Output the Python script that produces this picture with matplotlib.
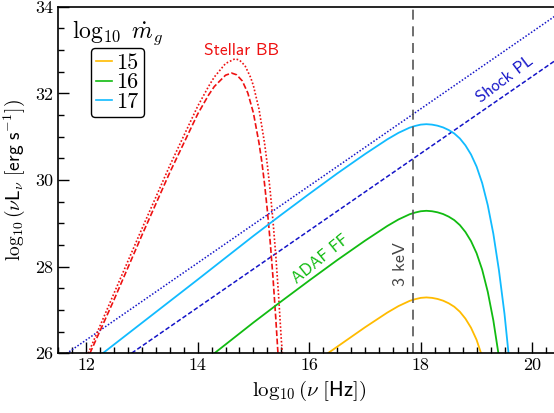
import matplotlib
matplotlib.use("Agg")
import matplotlib.pyplot as plt
from matplotlib.lines import Line2D
from matplotlib.ticker import MultipleLocator, FixedLocator

plt.rcParams['mathtext.fontset'] = 'cm'
plt.rcParams['font.family'] = 'serif'
plt.rcParams['font.serif'] = ['cmr10', 'DejaVu Serif']
plt.rcParams['axes.unicode_minus'] = False

# ---------------- data ----------------
# ADAF free-free spectra for log10 mdot_g = 17, 16, 15
ff17_x = [12.3, 13.0, 14.0, 15.0, 15.5, 16.0, 16.5, 16.8, 17.0, 17.2, 17.4, 17.6, 17.8,
          17.9, 18.0, 18.1, 18.2, 18.3, 18.4, 18.5, 18.6, 18.7, 18.8, 18.9, 19.0,
          19.1, 19.2, 19.3, 19.4, 19.5, 19.58]
ff17_y = [26.0, 26.70, 27.70, 28.71, 29.20, 29.68, 30.15, 30.42, 30.60, 30.77, 30.94, 31.09, 31.21,
          31.25, 31.28, 31.29, 31.28, 31.255, 31.215, 31.155, 31.075, 30.96, 30.80, 30.59, 30.31,
          29.93, 29.42, 28.76, 27.92, 26.91, 25.90]
ff16_x = [14.3, 15.0, 15.5, 16.0, 16.5, 16.8, 17.0, 17.2, 17.4, 17.6, 17.8,
          17.9, 18.0, 18.1, 18.2, 18.3, 18.4, 18.5, 18.6, 18.7, 18.8, 18.9, 19.0,
          19.1, 19.2, 19.3, 19.4]
ff16_y = [26.0, 26.71, 27.20, 27.68, 28.15, 28.42, 28.60, 28.77, 28.94, 29.09, 29.21,
          29.25, 29.28, 29.29, 29.28, 29.255, 29.215, 29.155, 29.075, 28.96, 28.80, 28.59, 28.31,
          27.93, 27.42, 26.76, 25.92]
ff15_x = [16.3, 16.5, 16.8, 17.0, 17.2, 17.4, 17.6, 17.8,
          17.9, 18.0, 18.1, 18.2, 18.3, 18.4, 18.5, 18.6, 18.7, 18.8, 18.9, 19.0, 19.08]
ff15_y = [25.97, 26.15, 26.42, 26.60, 26.77, 26.94, 27.09, 27.21,
          27.25, 27.28, 27.29, 27.28, 27.255, 27.215, 27.155, 27.075, 26.96, 26.80, 26.59, 26.31, 26.0]

# Stellar black body (two variants)
bb_dash_x = [12.07, 12.5, 13.0, 13.5, 14.0, 14.2, 14.3, 14.5, 14.61, 14.7, 14.8,
             14.9, 15.0, 15.1, 15.15, 15.2, 15.25, 15.3, 15.35, 15.4, 15.44]
bb_dash_y = [26.0, 27.23, 28.72, 30.17, 31.52, 31.97, 32.16, 32.42, 32.47, 32.43, 32.29,
             32.01, 31.55, 30.86, 30.43, 29.91, 29.30, 28.59, 27.77, 26.83, 26.0]
bb_dot_x = [12.04, 12.5, 13.0, 13.5, 14.0, 14.2, 14.3, 14.5, 14.67, 14.75, 14.85,
            14.95, 15.0, 15.1, 15.2, 15.25, 15.3, 15.35, 15.4, 15.45, 15.5, 15.52]
bb_dot_y = [26.0, 27.38, 28.87, 30.33, 31.70, 32.17, 32.38, 32.69, 32.80, 32.77, 32.64,
            32.37, 32.18, 31.64, 30.85, 30.35, 29.76, 29.07, 28.28, 27.36, 26.31, 26.0]

# Shock power laws
pl_dot_x = [11.5, 20.5]
pl_dot_y = [25.86, 33.87]
pl_dash_x = [11.5, 20.5]
pl_dash_y = [24.83, 32.84]

x_keV3 = 17.86

legend_labels = ['15', '16', '17']
xticks = [12, 14, 16, 18, 20]
yticks = [26, 28, 30, 32, 34]

# ---------------- styling ----------------
c15, c16, c17 = '#ffbb00', '#11bb11', '#11bbff'
cred = '#ee1111'
cblue = '#1414c8'

fig = plt.figure(figsize=(5.54, 4.13), dpi=100)
ax = fig.add_axes([58.1 / 554, 59.7 / 413, 502.2 / 554, 346.5 / 413])

ax.plot(pl_dot_x, pl_dot_y, color=cblue, lw=1.1, ls=(0, (1, 1.2)))
ax.plot(pl_dash_x, pl_dash_y, color=cblue, lw=1.1, ls=(0, (3, 1.5)))

ax.plot(bb_dot_x, bb_dot_y, color=cred, lw=1.2, ls=(0, (1, 1.2)))
ax.plot(bb_dash_x, bb_dash_y, color=cred, lw=1.2, ls=(0, (3.5, 1.5)))

ax.plot(ff17_x, ff17_y, color=c17, lw=1.3)
ax.plot(ff16_x, ff16_y, color=c16, lw=1.3)
ax.plot(ff15_x, ff15_y, color=c15, lw=1.3)

ax.axvline(x_keV3, color='#555555', lw=1.2, ls=(0, (6, 4)))

ax.set_xlim(11.5, 20.5)
ax.set_ylim(26, 34)
ax.xaxis.set_major_locator(FixedLocator(xticks))
ax.yaxis.set_major_locator(FixedLocator(yticks))
ax.xaxis.set_minor_locator(MultipleLocator(0.25))
ax.yaxis.set_minor_locator(MultipleLocator(0.5))
ax.tick_params(which='both', direction='in', top=False, right=False, labelsize=13, width=1.0)
ax.tick_params(which='major', length=8)
ax.tick_params(which='minor', length=4)
for s in ax.spines.values():
    s.set_linewidth(1.2)

ax.set_xlabel(r'$\log_{10}(\nu\ [\mathsf{Hz}])$', fontsize=15, labelpad=4)
ax.set_ylabel(r'$\log_{10}(\nu \mathsf{L}_\nu\ [\mathsf{erg\ s^{-1}}])$', fontsize=14, labelpad=6)

ss = 'cmss10'
ax.text(14.79, 33.0, 'Stellar BB', color=cred, fontsize=12.5, family=ss,
        ha='center', va='center')
ax.text(19.51, 32.33, 'Shock PL', color=cblue, fontsize=12, family=ss,
        rotation=37, ha='center', va='center', rotation_mode='anchor')
ax.text(16.21, 28.18, 'ADAF FF', color=c16, fontsize=12, family=ss,
        rotation=39, ha='center', va='center', rotation_mode='anchor')
ax.text(17.64, 28.05, '3 keV', color='#444444', fontsize=13, family=ss,
        rotation=90, ha='center', va='center')

ax.text(0.028, 0.925, r'$\log_{10}\ \dot{m}_g$', transform=ax.transAxes,
        fontsize=17, ha='left', va='center')

handles = [Line2D([], [], color=c, lw=1.2) for c in (c15, c16, c17)]
leg = ax.legend(handles, legend_labels, loc='upper left', bbox_to_anchor=(0.065, 0.882),
                prop={'family': 'cmr10', 'size': 16}, handlelength=0.7, handletextpad=0.2,
                labelspacing=0.0, borderpad=0.25, borderaxespad=0.0, fancybox=True,
                framealpha=1.0, edgecolor='black')
leg.get_frame().set_linewidth(1.0)

fig.savefig('out.png', dpi=100)
